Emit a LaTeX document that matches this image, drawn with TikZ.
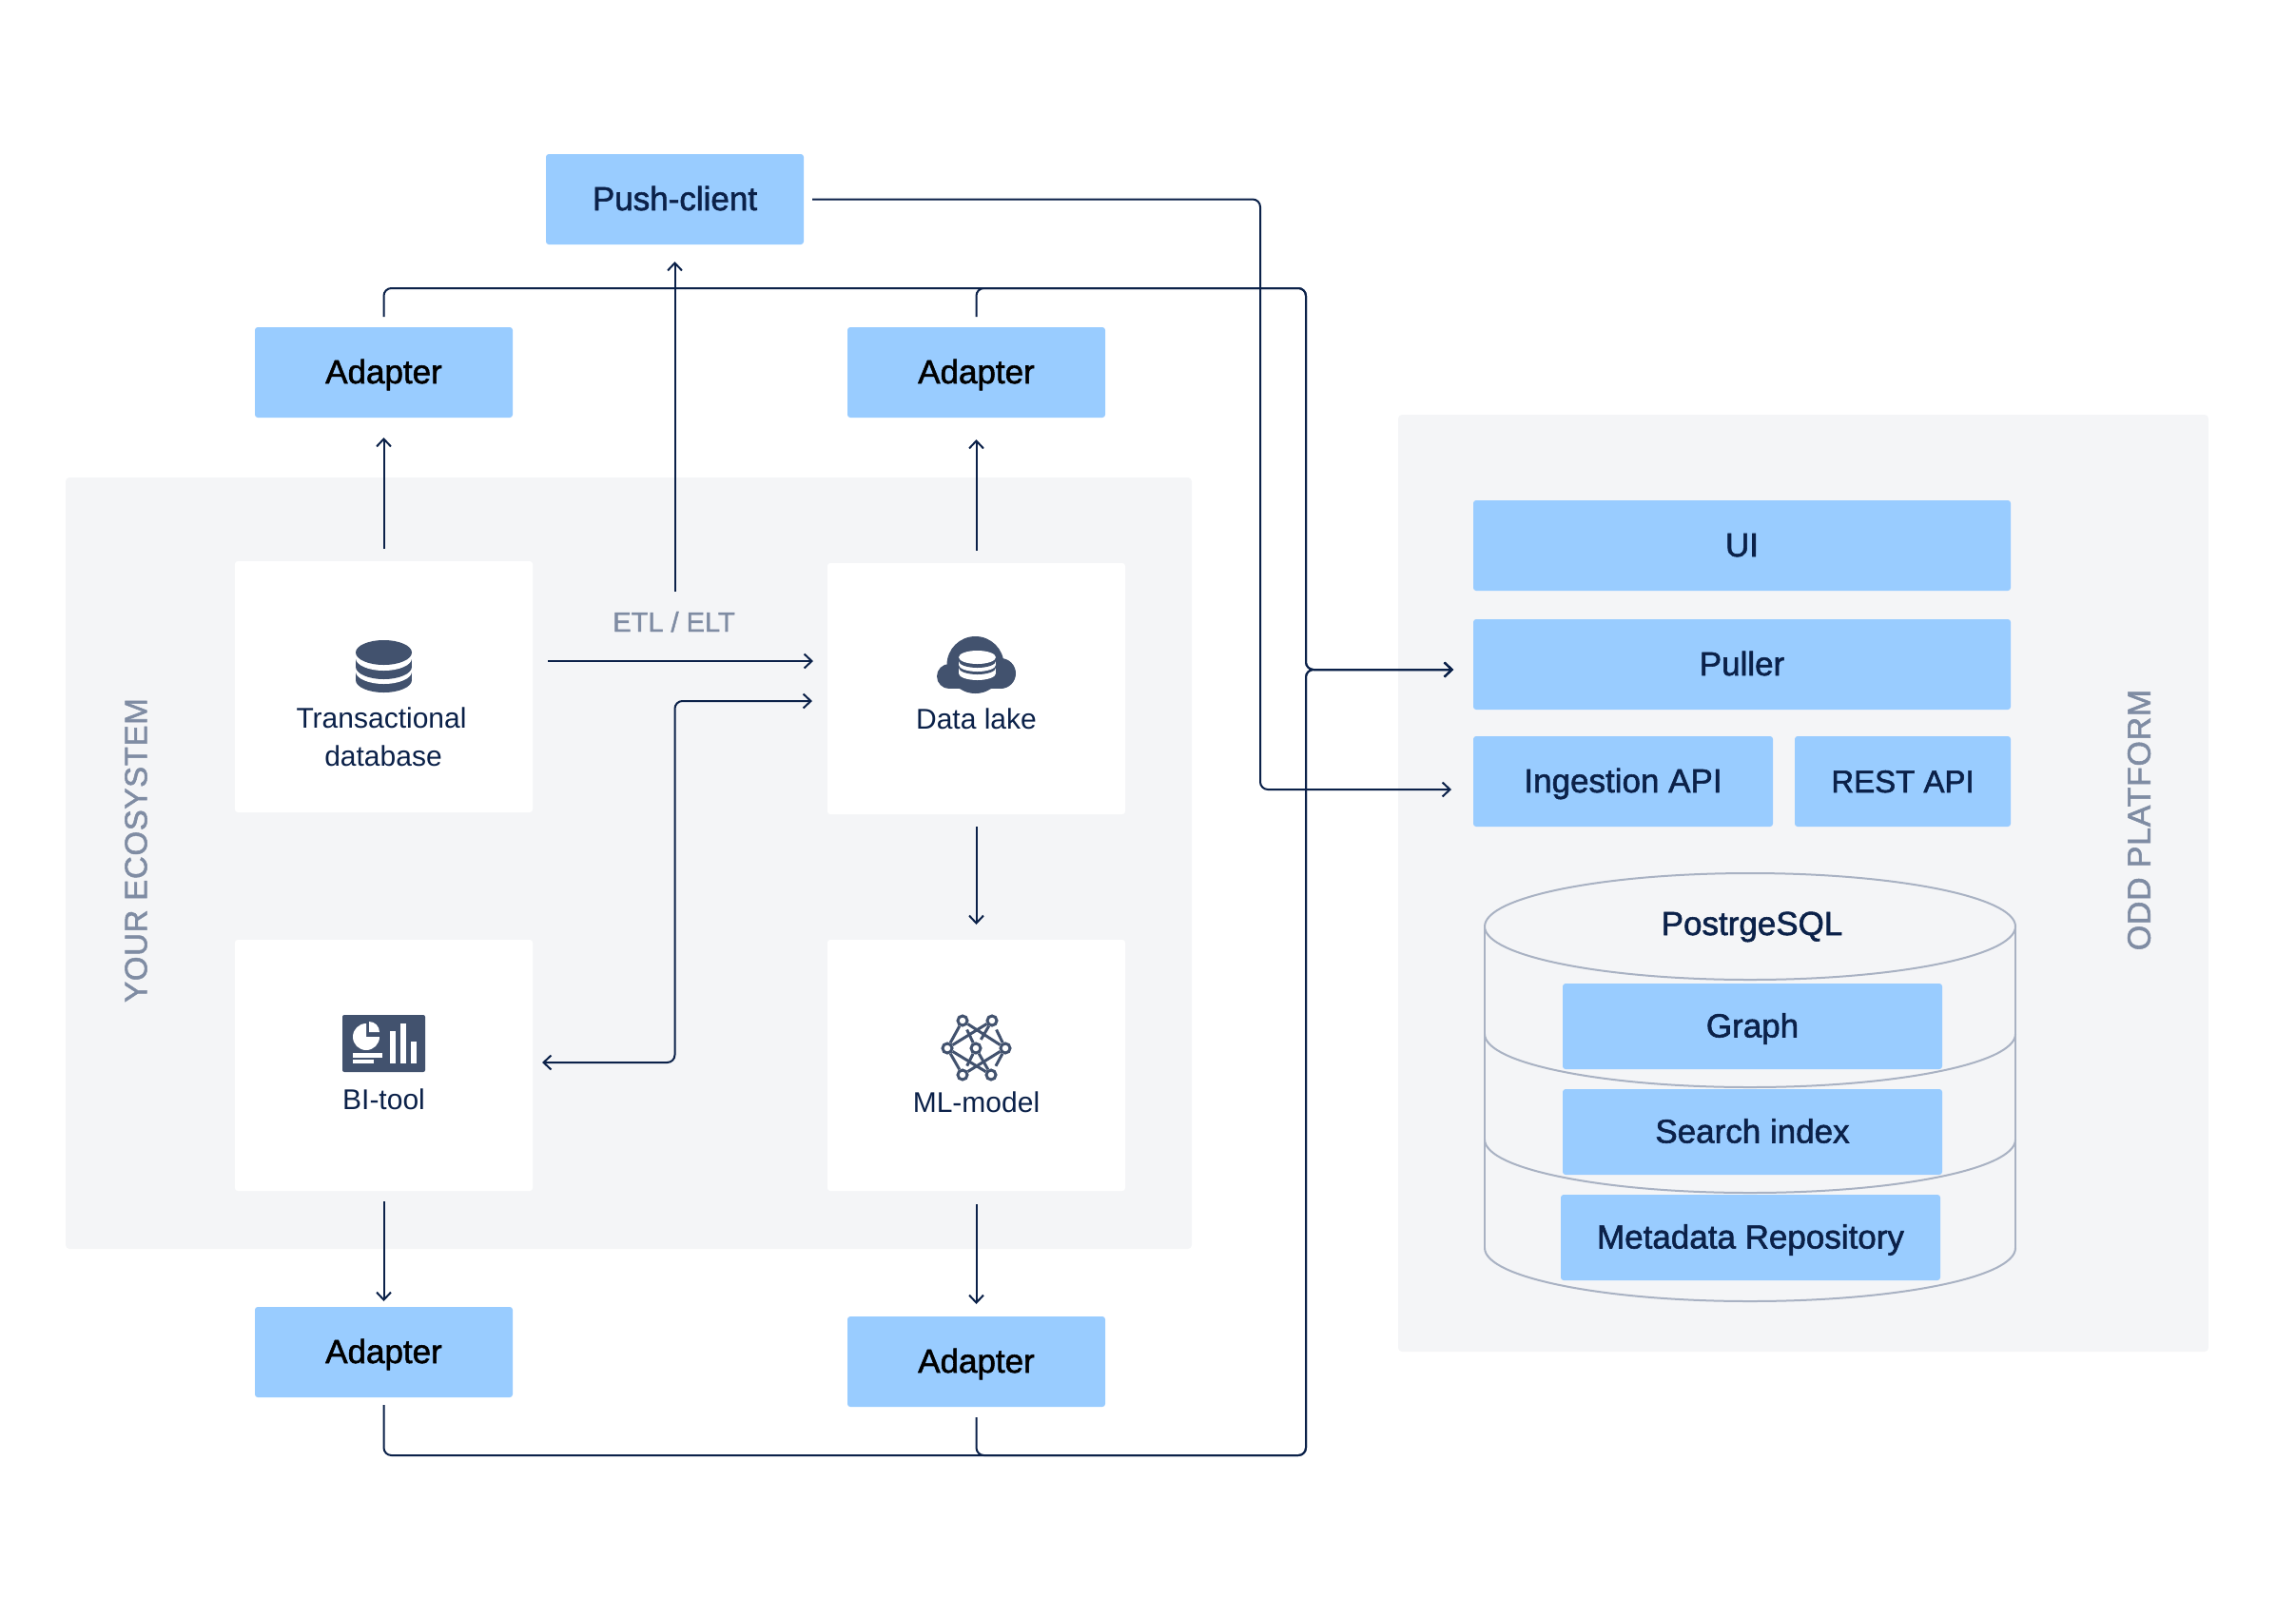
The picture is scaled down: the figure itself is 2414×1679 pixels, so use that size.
\documentclass[tikz,border=0pt]{standalone}
\usepackage{fontspec}
\usetikzlibrary{positioning,arrows.meta}
\setmainfont{Liberation Sans}
\newfontfamily\medfont[FakeBold=1.6]{Liberation Sans}
\newfontfamily\capsfont[FakeBold=1.6,LetterSpace=2]{Liberation Sans}
\definecolor{boxblue}{HTML}{99CCFF}
\definecolor{panelgray}{HTML}{F4F5F7}
\definecolor{navy}{HTML}{0B2149}
\definecolor{iconnavy}{HTML}{42526E}
\definecolor{mutedgray}{HTML}{7F8CA3}
\definecolor{cylgray}{HTML}{A9B2C3}
\tikzset{
	panel/.style={fill=panelgray, rounded corners=4pt, inner sep=0pt, outer sep=0pt},
	whitebox/.style={fill=white, rounded corners=3pt, inner sep=0pt, outer sep=0pt, minimum width=313pt, minimum height=264pt},
	bluebox/.style={fill=boxblue, rounded corners=3pt, inner sep=0pt, outer sep=0pt, minimum height=95pt, text=navy,
		font=\medfont\fontsize{35}{40}\selectfont, text height=23pt, text depth=0pt},
	adapterbox/.style={bluebox, minimum width=271pt, text=black},
	cylbox/.style={bluebox, minimum width=399pt, minimum height=90pt},
	boxtext/.style={text=navy, inner sep=0pt, align=center, font=\fontsize{30}{40}\selectfont},
	sidetext/.style={text=mutedgray, rotate=90, inner sep=0pt, font=\capsfont\fontsize{33}{40}\selectfont},
	wire/.style={draw=navy, line width=2pt, >={Straight Barb[length=8pt,width=15pt]}},
	bus/.style={wire, rounded corners=8pt},
	cylline/.style={draw=cylgray, line width=2pt},
	mlring/.style={circle, draw=iconnavy, fill=white, line width=3pt, inner sep=0pt, minimum size=10pt},
	mledge/.style={draw=iconnavy, line width=3pt}
}
\begin{document}
\begin{tikzpicture}[x=1pt, y=-1pt]
	\useasboundingbox (0,0) rectangle (2414,1679);
	\node[panel, minimum width=1184pt, minimum height=811pt] (ecosystem) at (661,907.5) {};
	\node[panel, minimum width=852pt, minimum height=985pt] (platform) at (1896,928.5) {};

	\node[whitebox] (trans) at (403.5,722) {};
	\node[whitebox] (dlake) at (1026.5,724) {};
	\node[whitebox, below=134pt of trans] (bitool) {};
	\node[whitebox, below=132pt of dlake] (mlmodel) {};

	\node[adapterbox, above=151pt of trans] (adapterA) {Adapter};
	\node[adapterbox, above=153pt of dlake] (adapterB) {Adapter};
	\node[adapterbox, below=122pt of bitool] (adapterC) {Adapter};
	\node[adapterbox, below=132pt of mlmodel] (adapterD) {Adapter};
	\node[adapterbox, text=navy] (push) at (709.5,209.5) {Push-client};

	\node[bluebox, minimum width=565pt] (ui) at (1831.5,573.5) {UI};
	\node[bluebox, minimum width=565pt, below=30pt of ui] (puller) {Puller};
	\node[bluebox, minimum width=315pt, below right=28pt and 0pt of puller.south west] (ingest) {Ingestion API};
	\node[bluebox, minimum width=227pt, right=23pt of ingest, font=\medfont\fontsize{33}{40}\selectfont] (rest) {REST API};

	\node[sidetext] (ecolabel) at (143,894) {YOUR ECOSYSTEM};
	\node[sidetext, font=\capsfont\fontsize{34}{40}\selectfont] (odlabel) at (2249,862) {ODD PLATFORM};

	\node[boxtext, anchor=base] (translabel) at (403,805) {Transactional\hspace*{4pt}\\database};
	\node[boxtext, anchor=base] (dllabel) at (1026.5,766) {Data lake};
	\node[boxtext, anchor=base] (bilabel) at (403.5,1166) {BI-tool};
	\node[boxtext, anchor=base] (mllabel) at (1026.5,1169) {ML-model};
	\node[boxtext, anchor=base, text=mutedgray, font=\medfont\fontsize{29}{40}\selectfont] (etllabel) at (708.5,664) {ETL / ELT};

	\draw[cylline] (1561,974) -- (1561,1312);
	\draw[cylline] (2119,974) -- (2119,1312);
	\draw[cylline] (1840,974) ellipse[x radius=279pt, y radius=56pt];
	\foreach \cy in {1087,1198,1312}
		\draw[cylline] (1561,\cy) arc[start angle=180, end angle=360, x radius=279pt, y radius=56pt];
	\node[boxtext, anchor=base, font=\medfont\fontsize{35}{40}\selectfont] (pglabel) at (1842,983) {PostrgeSQL};
	\node[cylbox] (graph) at (1842.5,1079) {Graph};
	\node[cylbox, below=21pt of graph] (search) {Search index};
	\node[cylbox] (metadata) at (1840.5,1301) {Metadata Repository};

	\foreach \cy/\col in {715/iconnavy,706/white,701/iconnavy,692/white,686/iconnavy} {
		\fill[\col] (374,686) rectangle (433,\cy);
		\fill[\col] (403.5,\cy) ellipse[x radius=29.5pt, y radius=13pt];
	}

	\fill[iconnavy] (1025.5,699) circle[radius=30pt];
	\fill[iconnavy] (998,711) circle[radius=13pt];
	\fill[iconnavy] (1052,708) circle[radius=16pt];
	\fill[iconnavy] (998,699) rectangle (1052,724);
	\foreach \cy/\col in {708/white,702/iconnavy,699/white,695/iconnavy,691/white} {
		\fill[\col] (1008,691) rectangle (1047,\cy);
		\fill[\col] (1027.5,\cy) ellipse[x radius=19.5pt, y radius=7pt];
	}

	\fill[iconnavy, rounded corners=2pt] (360,1067) rectangle (447,1127);
	\fill[white] (385,1090) -- (385,1076) arc[start angle=90, end angle=360, radius=14pt] -- cycle;
	\fill[white] (388,1085) -- (399,1085) arc[start angle=0, end angle=90, radius=11pt] -- cycle;
	\fill[white] (371,1107) rectangle (402,1112);
	\fill[white] (371,1114) rectangle (393,1118);
	\fill[white] (410,1084) rectangle (416,1118);
	\fill[white] (421,1076) rectangle (427,1118);
	\fill[white] (432,1095) rectangle (438,1118);

	\node[mlring] (mlTL) at (1012,1073) {};
	\node[mlring] (mlTR) at (1043,1073) {};
	\node[mlring] (mlL) at (996,1102) {};
	\node[mlring] (mlC) at (1026,1102) {};
	\node[mlring] (mlR) at (1057,1102) {};
	\node[mlring] (mlBL) at (1012,1130) {};
	\node[mlring] (mlBR) at (1042,1130) {};
	\foreach \a/\b in {mlTL/mlL,mlTL/mlR,mlTR/mlL,mlL/mlBL,mlL/mlBR,mlC/mlBR,mlR/mlBL}
		\draw[mledge] (\a) -- (\b);
	\foreach \a/\b in {mlTL/mlC,mlTR/mlR,mlBL/mlC,mlBR/mlR}
		\draw[mledge, shorten <=4pt] (\a) -- (\b);
	\draw[mledge, shorten >=4pt] (mlTR) -- (mlC);

	\coordinate (etlstart) at (576,695);
	\coordinate (etlend) at (855,695);
	\coordinate (etltop) at (709.5,622);
	\coordinate (biin) at (570,1117);
	\coordinate (dlin) at (854,737);
	\coordinate (busne) at (1373,303);
	\coordinate (busse) at (1373,1530);
	\coordinate (pullerin) at (1528,704);
	\coordinate (pushturn) at (1325,830);
	\coordinate (ingestin) at (1526,830);

	\draw[wire, ->, shorten <=13pt, shorten >=21pt] (trans) -- (adapterA);
	\draw[wire, ->, shorten <=13pt, shorten >=23pt] (dlake) -- (adapterB);
	\draw[wire, ->, shorten <=13pt, shorten >=16pt] (dlake) -- (mlmodel);
	\draw[wire, ->, shorten <=11pt, shorten >=6pt] (bitool) -- (adapterC);
	\draw[wire, ->, shorten <=14pt, shorten >=13pt] (mlmodel) -- (adapterD);
	\draw[wire, ->, shorten >=18pt] (etltop) -- (push.south);
	\draw[wire, ->] (etlstart) -- (etlend);
	\draw[bus, <->] (biin) -| (etltop |- dlin) -- (dlin);

	\draw[bus, ->, shorten <=11pt] (adapterA.north) |- (busne) -- (busne |- pullerin) -- (pullerin);
	\draw[bus, ->, shorten <=11pt] (adapterB.north) |- (busne) -- (busne |- pullerin) -- (pullerin);
	\draw[bus, ->, shorten <=8pt] (adapterC.south) |- (busse) -- (busse |- pullerin) -- (pullerin);
	\draw[bus, ->, shorten <=11pt] (adapterD.south) |- (busse) -- (busse |- pullerin) -- (pullerin);
	\draw[bus, ->, shorten <=9pt] (push.east) -| (pushturn) -- (ingestin);
\end{tikzpicture}
\end{document}
